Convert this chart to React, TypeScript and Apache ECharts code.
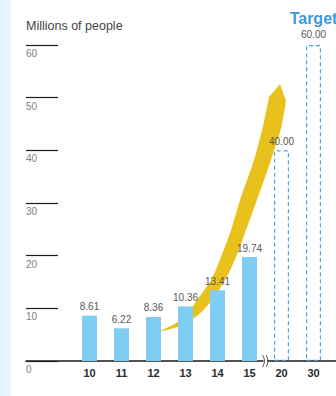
import React, { useEffect, useRef } from "react";
import * as echarts from "echarts";

const categories = ["10", "11", "12", "13", "14", "15", "20", "30"];
const actualValues: (number | null)[] = [8.61, 6.22, 8.36, 10.36, 13.41, 19.74, null, null];
const targetValues: (number | null)[] = [null, null, null, null, null, null, 40, 60];
const yMin = 0;
const yMax = 60;
const yInterval = 10;
const unitLabel = "Millions of people";
const targetTitle = "Target";

// decorative arrow outline (pixels)
const arrowTip: [number, number] = [280, 84];
const arrowRight: [number, number][] = [
  [286, 101], [281, 128], [270, 163], [258, 197], [246, 230], [236, 257],
  [225, 280], [212, 300], [198, 315], [180, 326], [158, 332],
];
const arrowLeft: [number, number][] = [
  [158, 332], [178, 322], [189, 312], [197, 300], [211, 280], [221, 257],
  [231, 230], [241, 197], [253, 163], [262, 130], [269, 97],
];

function smoothSeg(pts: [number, number][]): string {
  let d = "";
  for (let i = 0; i < pts.length - 1; i++) {
    const p0 = pts[Math.max(0, i - 1)];
    const p1 = pts[i];
    const p2 = pts[i + 1];
    const p3 = pts[Math.min(pts.length - 1, i + 2)];
    const c1x = p1[0] + (p2[0] - p0[0]) / 6;
    const c1y = p1[1] + (p2[1] - p0[1]) / 6;
    const c2x = p2[0] - (p3[0] - p1[0]) / 6;
    const c2y = p2[1] - (p3[1] - p1[1]) / 6;
    d += ` C ${c1x.toFixed(2)} ${c1y.toFixed(2)} ${c2x.toFixed(2)} ${c2y.toFixed(2)} ${p2[0]} ${p2[1]}`;
  }
  return d;
}

const arrowD =
  `M ${arrowTip[0]} ${arrowTip[1]} L ${arrowRight[0][0]} ${arrowRight[0][1]}` +
  smoothSeg(arrowRight) +
  smoothSeg(arrowLeft) +
  " Z";

const FONT = "'Liberation Sans', Arial, sans-serif";

export default function App() {
  const ref = useRef<HTMLDivElement>(null);
  useEffect(() => {
    if (!ref.current) return;
    echarts.graphic.registerShape("growthArrow", echarts.graphic.extendPath(arrowD, {}));
    const chart = echarts.init(ref.current, undefined, { renderer: "svg" });
    const lastIdx = targetValues.length - 1;
    const targetData = targetValues.map((v, i) =>
      v == null
        ? null
        : i === lastIdx
        ? {
            value: v,
            label: {
              show: true,
              position: "top",
              distance: 4,
              formatter: (p: any) => `{t|${targetTitle}}\n{v|${Number(p.value).toFixed(2)}}`,
              rich: {
                t: { fontSize: 16, fontWeight: "bold", color: "#3a9bdb", lineHeight: 18, fontFamily: FONT },
                v: { fontSize: 10, color: "#595757", lineHeight: 14, fontFamily: FONT },
              },
            },
          }
        : v
    );
    const gridTop = 45;
    const gridH = 316;
    chart.setOption({
      animation: false,
      backgroundColor: "#ffffff",
      textStyle: { fontFamily: FONT },
      grid: [
        { left: 73.5, width: 256, top: gridTop, height: gridH },
        { left: 26, width: 32, top: gridTop, height: gridH },
        { left: 26, right: 0, top: gridTop, height: gridH },
      ],
      xAxis: [
        {
          gridIndex: 0,
          type: "category",
          data: categories,
          axisLine: { show: false },
          axisTick: { show: false },
          axisLabel: { fontSize: 11, fontWeight: "bold", color: "#2b2b2b", margin: 6, fontFamily: FONT },
        },
        { gridIndex: 1, type: "value", show: false },
        {
          gridIndex: 2,
          type: "value",
          min: 0,
          max: 1,
          axisLine: { show: true, onZero: false, lineStyle: { color: "#231815", width: 1.5 } },
          axisTick: { show: false },
          axisLabel: { show: false },
          splitLine: { show: false },
        },
      ],
      yAxis: [
        { gridIndex: 0, type: "value", min: yMin, max: yMax, interval: yInterval, show: false },
        {
          gridIndex: 1,
          type: "value",
          min: yMin,
          max: yMax,
          interval: yInterval,
          name: unitLabel,
          nameLocation: "end",
          nameGap: 13,
          nameTextStyle: { align: "left", fontSize: 12.5, color: "#444444", fontFamily: FONT },
          axisLine: { show: false },
          axisTick: { show: false },
          splitLine: { show: true, lineStyle: { color: "#231815", width: 1.2 } },
          axisLabel: {
            align: "left",
            verticalAlign: "top",
            lineHeight: 17,
            margin: 0,
            fontSize: 10,
            color: "#808080",
            fontFamily: FONT,
          },
        },
        { gridIndex: 2, type: "value", show: false, min: 0, max: 1 },
      ],
      graphic: [
        { type: "rect", z: -1, shape: { x: 0, y: 0, width: 11, height: 396 }, style: { fill: "#e8f4fc" } },
        { type: "growthArrow", z: 1, x: 0, y: 0, style: { fill: "#e8c11c" } },
        { type: "rect", z: 10, shape: { x: 263.5, y: 357, width: 3.5, height: 8 }, style: { fill: "#ffffff" } },
        {
          type: "bezierCurve",
          z: 11,
          shape: { x1: 262.5, y1: 355, x2: 262.5, y2: 367, cpx1: 266.5, cpy1: 361 },
          style: { stroke: "#555555", lineWidth: 1, fill: null },
        },
        {
          type: "bezierCurve",
          z: 11,
          shape: { x1: 266, y1: 355, x2: 266, y2: 367, cpx1: 270, cpy1: 361 },
          style: { stroke: "#555555", lineWidth: 1, fill: null },
        },
      ],
      series: [
        {
          type: "bar",
          xAxisIndex: 0,
          yAxisIndex: 0,
          data: actualValues,
          barWidth: 15,
          barGap: "-100%",
          itemStyle: { color: "#80cdf3" },
          label: {
            show: true,
            position: "top",
            distance: 4,
            fontSize: 10,
            color: "#595757",
            fontFamily: FONT,
            formatter: (p: any) => Number(p.value).toFixed(2),
          },
        },
        {
          type: "bar",
          xAxisIndex: 0,
          yAxisIndex: 0,
          data: targetData,
          barWidth: 15,
          barGap: "-100%",
          itemStyle: {
            color: "rgba(255,255,255,0)",
            borderColor: "#4aa3de",
            borderWidth: 1.2,
            borderType: [4, 3],
          },
          label: {
            show: true,
            position: "top",
            distance: 4,
            fontSize: 10,
            color: "#595757",
            fontFamily: FONT,
            formatter: (p: any) => Number(p.value).toFixed(2),
          },
        },
      ],
    });
    return () => chart.dispose();
  }, []);
  return (
    <div
      ref={ref}
      style={{ position: "fixed", left: 0, top: 0, width: 336, height: 396 }}
    />
  );
}
